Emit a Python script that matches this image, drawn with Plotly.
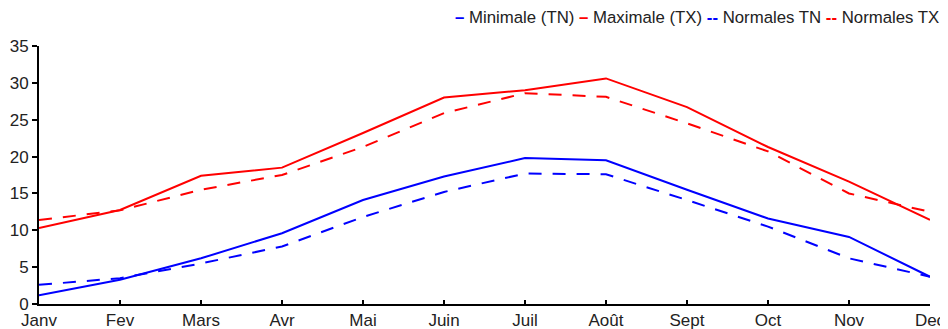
import plotly.graph_objects as go

months = ["Janv", "Fev", "Mars", "Avr", "Mai", "Juin", "Juil", "Août", "Sept", "Oct", "Nov", "Dec"]
tn = [1.2, 3.3, 6.2, 9.6, 14.1, 17.3, 19.8, 19.5, 15.5, 11.6, 9.1, 3.7]
tx = [10.3, 12.75, 17.4, 18.5, 23.2, 28.0, 29.0, 30.6, 26.7, 21.3, 16.6, 11.4]
norm_tn = [2.6, 3.5, 5.5, 7.8, 11.8, 15.2, 17.7, 17.6, 14.1, 10.5, 6.2, 3.7]
norm_tx = [11.4, 12.7, 15.5, 17.5, 21.3, 25.9, 28.6, 28.1, 24.5, 20.7, 15.0, 12.5]
y_ticks = [0, 5, 10, 15, 20, 25, 30, 35]
series_names = ["Minimale (TN)", "Maximale (TX)", "Normales TN", "Normales TX"]
series_colors = ["#0000ff", "#ff0000", "#0000ff", "#ff0000"]
series_symbols = ["–", "–", "--", "--"]

fig = go.Figure()
for name, vals, color, dash in zip(series_names, [tn, tx, norm_tn, norm_tx], series_colors,
                                   ["solid", "solid", "13px,11px", "13px,11px"]):
    fig.add_trace(go.Scatter(x=months, y=vals, mode="lines", name=name,
                             line=dict(color=color, width=2, dash=dash)))

# page body has an 8px margin: figure placed at (8, 8)
W, H = 940, 321
L, R, T, B = 31, 18, 38, 25
plot_w, plot_h = W - L - R, H - T - B

legend_text = " ".join(
    f"<span style='color:{c}'><b>{s}</b></span> {n}"
    for n, c, s in zip(series_names, series_colors, series_symbols)
)
fig.add_annotation(text=legend_text, xref="paper", yref="paper",
                   x=(445 - L) / plot_w, y=(H - B - 9) / plot_h, xanchor="left", yanchor="middle",
                   showarrow=False, font=dict(size=16.8, color="#222222"))

fig.update_layout(
    width=W, height=H,
    margin=dict(l=L, r=R, t=T, b=B, autoexpand=False),
    paper_bgcolor="white", plot_bgcolor="white",
    font=dict(family="Liberation Sans, Arial, sans-serif", color="#222222"),
    showlegend=False,
)
fig.update_xaxes(type="category", range=[0, 11], showline=True, linecolor="black",
                 linewidth=2, ticks="inside", ticklen=4, tickwidth=2, tickcolor="black",
                 showgrid=False, zeroline=False, tickfont=dict(size=17, color="#222222"))
fig.update_yaxes(range=[0, 35], tickvals=y_ticks, showline=True, linecolor="black",
                 linewidth=2, ticks="outside", ticklen=5, tickwidth=2, tickcolor="black",
                 showgrid=False, zeroline=False, tickfont=dict(size=17, color="#222222"))

fig.write_html("out.html")
